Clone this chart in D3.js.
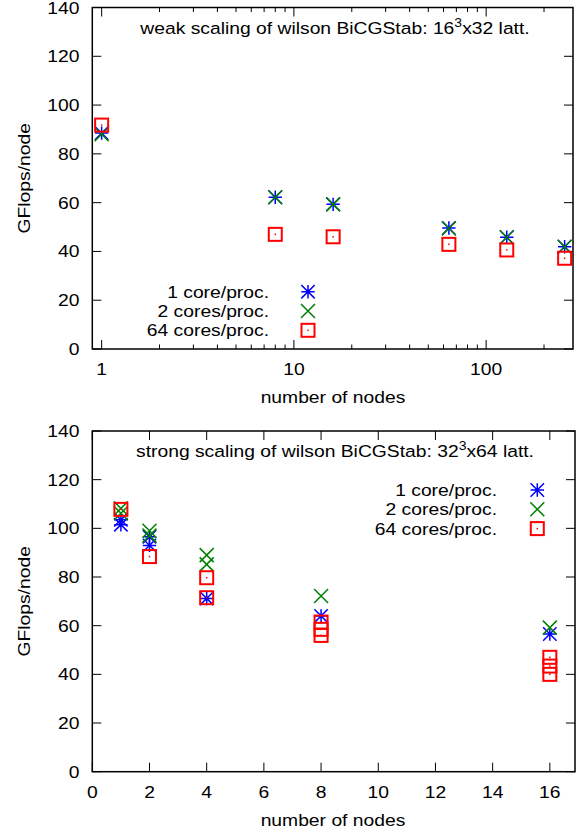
<!DOCTYPE html>
<html>
<head>
<meta charset="utf-8">
<script src="https://cdn.jsdelivr.net/npm/d3@7"></script>
<style>
  body { margin: 0; background: #fff; }
  svg text { font-family: "Liberation Sans", Arial, sans-serif; font-size: 16.5px; fill: #000; }
</style>
</head>
<body>
<svg id="canvas" width="582" height="834"></svg>
<script>
// weak scaling (16^3x32), one point per node count
const weakNodes = [1, 8, 16, 64, 128, 256];
const weak1core = [88.5, 62.2, 59.3, 49.6, 45.8, 41.9];
const weak2cores = [88.0, 62.2, 59.3, 49.4, 45.8, 41.9];
const weak64cores = [91.8, 47.0, 46.0, 42.9, 40.6, 37.2];

// strong scaling (32^3x64), several runs per node count
const strong1coreNodes = [1, 1, 2, 2, 4, 8, 16];
const strong1coreVals = [103.5, 101.5, 96.5, 93.0, 71.2, 64.0, 56.6];
const strong2coresNodes = [1, 1, 2, 2, 4, 4, 8, 16];
const strong2coresVals = [108.2, 106.2, 99.0, 97.0, 89.0, 85.2, 72.2, 59.2];
const strong64coresNodes = [1, 2, 4, 4, 8, 8, 8, 16, 16, 16];
const strong64coresVals = [107.8, 88.4, 79.7, 71.5, 61.5, 58.5, 56.0, 47.0, 43.4, 40.0];

const yTicks = [0, 20, 40, 60, 80, 100, 120, 140];
const weakXTicks = [1, 10, 100];
const strongXTicks = [0, 2, 4, 6, 8, 10, 12, 14, 16];
const seriesLabels = ["1 core/proc.", "2 cores/proc.", "64 cores/proc."];

const colors = ["#0000ff", "#008000", "#ff0000"];
const stretch = 1.17; // the reference font is drawn wider than it is tall
const svg = d3.select("#canvas");

// text helper: places a horizontally stretched label at (x, y)
function label(g, x, y, str, anchor, rot = 0) {
    const t = g.append("g")
        .attr("transform", `translate(${x},${y}) rotate(${rot}) scale(${stretch},1)`)
        .append("text").attr("text-anchor", anchor);
    if (str !== null) t.text(str);
    return t;
}

// gnuplot style point symbols
function drawPoint(g, type, x, y) {
    const s = 6.7;
    if (type === 0) { // asterisk
        const p = d3.path();
        p.moveTo(x - s, y); p.lineTo(x + s, y);
        p.moveTo(x, y - s); p.lineTo(x, y + s);
        p.moveTo(x - s, y - s); p.lineTo(x + s, y + s);
        p.moveTo(x - s, y + s); p.lineTo(x + s, y - s);
        g.append("path").attr("d", p.toString())
            .attr("stroke", colors[0]).attr("stroke-width", 1.5).attr("fill", "none");
    } else if (type === 1) { // cross
        const p = d3.path();
        p.moveTo(x - 7, y - 7); p.lineTo(x + 7, y + 7);
        p.moveTo(x - 7, y + 7); p.lineTo(x + 7, y - 7);
        g.append("path").attr("d", p.toString())
            .attr("stroke", colors[1]).attr("stroke-width", 1.5).attr("fill", "none");
    } else { // open box with center dot
        g.append("rect").attr("x", x - 6.5).attr("y", y - 6.5)
            .attr("width", 13).attr("height", 13)
            .attr("stroke", colors[2]).attr("stroke-width", 2).attr("fill", "none");
        g.append("rect").attr("x", x - 0.75).attr("y", y - 0.75)
            .attr("width", 1.5).attr("height", 1.5).attr("fill", colors[2]);
    }
}

function drawPanel(cfg) {
    const g = svg.append("g");
    const x = cfg.xScale, y = cfg.yScale;
    const [x0, x1] = x.range();
    const [y0, y1] = y.range(); // y0 bottom, y1 top

    // ticks (mirrored on all four sides)
    const tk = g.append("g").attr("stroke", "#000").attr("stroke-width", 1);
    yTicks.forEach(v => {
        tk.append("line").attr("x1", x0).attr("x2", x0 + 9).attr("y1", y(v)).attr("y2", y(v));
        tk.append("line").attr("x1", x1).attr("x2", x1 - 9).attr("y1", y(v)).attr("y2", y(v));
        label(g, 79.5, y(v) + 6, v, "end");
    });
    cfg.xTicks.forEach(v => {
        tk.append("line").attr("x1", x(v)).attr("x2", x(v)).attr("y1", y0).attr("y2", y0 - 9);
        tk.append("line").attr("x1", x(v)).attr("x2", x(v)).attr("y1", y1).attr("y2", y1 + 9);
        label(g, x(v), y0 + 26, v, "middle");
    });
    (cfg.minorTicks || []).forEach(v => {
        tk.append("line").attr("x1", x(v)).attr("x2", x(v)).attr("y1", y0).attr("y2", y0 - 4.5);
        tk.append("line").attr("x1", x(v)).attr("x2", x(v)).attr("y1", y1).attr("y2", y1 + 4.5);
    });

    // frame
    g.append("rect").attr("x", x0).attr("y", y1)
        .attr("width", x1 - x0).attr("height", y0 - y1)
        .attr("fill", "none").attr("stroke", "#000").attr("stroke-width", 1.5);

    // axis labels
    label(g, 333, y0 + 54, "number of nodes", "middle");
    label(g, 30, (y0 + y1) / 2, "GFlops/node", "middle", -90);

    // title with superscript
    const t = label(g, 335, y1 + 26, null, "middle");
    t.append("tspan").text(cfg.title[0]);
    t.append("tspan").attr("dy", -7).attr("font-size", 12).text("3");
    t.append("tspan").attr("dy", 7).text(cfg.title[1]);

    // points
    cfg.series.forEach((s, i) => {
        s.nodes.forEach((n, j) => drawPoint(g, i, x(n), y(s.vals[j])));
    });

    // legend
    seriesLabels.forEach((lab, i) => {
        const cy = cfg.legend.y + i * 19.3;
        label(g, cfg.legend.textX, cy + 6, lab, "end");
        drawPoint(g, i, cfg.legend.symX, cy);
    });
}

const weakMinor = [];
[1, 10, 100].forEach(d => { for (let k = 2; k <= 9; k++) if (d * k < 283) weakMinor.push(d * k); });

drawPanel({
    xScale: d3.scaleLog().domain([0.894, 283]).range([92.3, 573]),
    yScale: d3.scaleLinear().domain([0, 140]).range([349, 7.5]),
    xTicks: weakXTicks,
    minorTicks: weakMinor,
    title: ["weak scaling of wilson BiCGStab: 16", "x32 latt."],
    legend: { textX: 269, symX: 308, y: 291.7 },
    series: [
        { nodes: weakNodes, vals: weak1core },
        { nodes: weakNodes, vals: weak2cores },
        { nodes: weakNodes, vals: weak64cores }
    ]
});

drawPanel({
    xScale: d3.scaleLinear().domain([0, 16.88]).range([92.3, 575]),
    yScale: d3.scaleLinear().domain([0, 140]).range([771.7, 431]),
    xTicks: strongXTicks,
    title: ["strong scaling of wilson BiCGStab: 32", "x64 latt."],
    legend: { textX: 497, symX: 537.3, y: 490 },
    series: [
        { nodes: strong1coreNodes, vals: strong1coreVals },
        { nodes: strong2coresNodes, vals: strong2coresVals },
        { nodes: strong64coresNodes, vals: strong64coresVals }
    ]
});
</script>
</body>
</html>
